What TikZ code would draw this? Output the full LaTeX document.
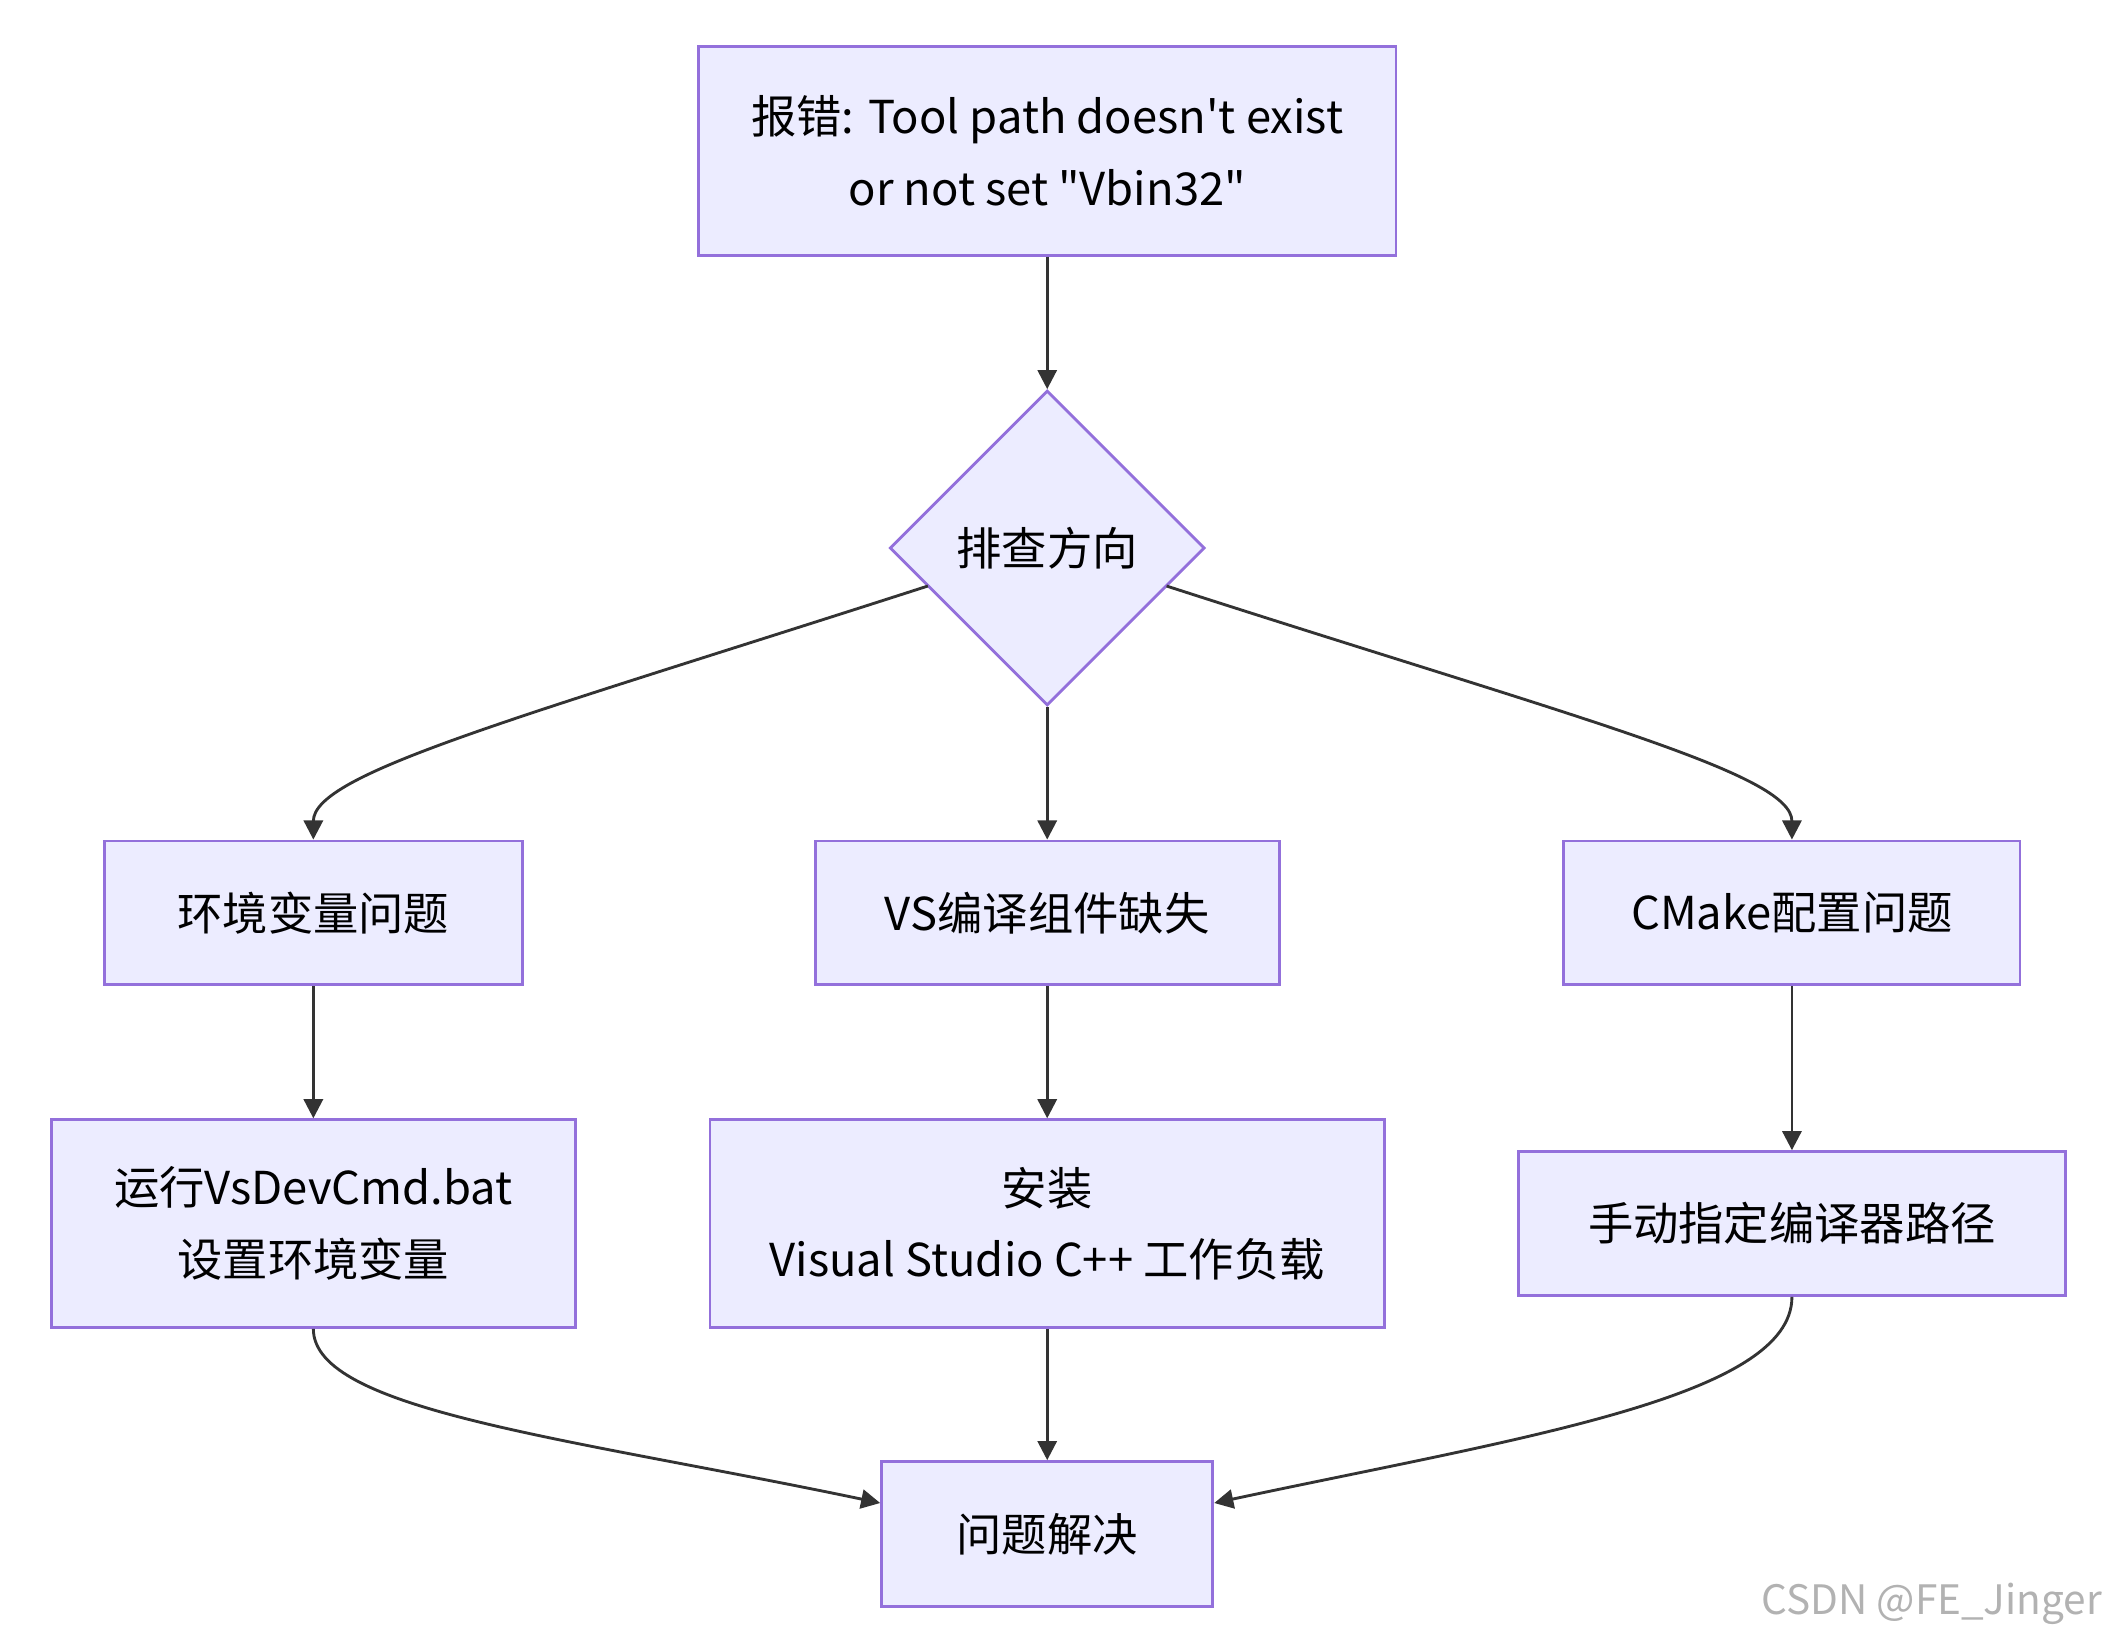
\documentclass[tikz,border=0pt]{standalone}
\usepackage{fontspec}
\setmainfont{Noto Sans CJK SC}
\usetikzlibrary{shapes.geometric,arrows.meta}
\definecolor{boxfill}{HTML}{ECECFF}
\definecolor{boxline}{HTML}{9370DB}
\definecolor{linkcol}{HTML}{333333}
\begin{document}
\begin{tikzpicture}[x=0.01cm,y=-0.01cm,
    box/.style={draw=boxline,fill=boxfill,line width=0.6pt,align=center,
                font=\fontsize{9.5}{15}\selectfont,inner sep=0pt},
    link/.style={draw=linkcol,line width=0.6pt,-{Triangle[length=4pt,width=4pt]}}]
  \useasboundingbox (0,0) rectangle (1568,1208);
  % nodes
  \node[box,minimum width=5.14cm,minimum height=1.54cm] (err) at (772,111)
    {报错: Tool path doesn\textquotesingle t exist\\or not set \textquotedbl Vbin32\textquotedbl};
  \node[box,diamond,minimum width=2.32cm,minimum height=2.32cm] (dir) at (772,404) {排查方向};
  \node[box,minimum width=3.08cm,minimum height=1.06cm] (env) at (231,673) {环境变量问题};
  \node[box,minimum width=3.42cm,minimum height=1.06cm] (vs) at (772,673) {VS编译组件缺失};
  \node[box,minimum width=3.36cm,minimum height=1.06cm] (cm) at (1321,673) {CMake配置问题};
  \node[box,minimum width=3.86cm,minimum height=1.53cm] (run) at (231,902) {运行VsDevCmd.bat\\设置环境变量};
  \node[box,minimum width=4.97cm,minimum height=1.53cm] (inst) at (772,902) {安装\\Visual Studio C++ 工作负载};
  \node[box,minimum width=4.03cm,minimum height=1.06cm] (path) at (1321,902) {手动指定编译器路径};
  \node[box,minimum width=2.44cm,minimum height=1.07cm] (done) at (772,1131) {问题解决};
  \node[text=gray!60,font=\fontsize{8.5}{10}\selectfont,anchor=east] (mark) at (1562,1182) {CSDN @FE\_Jinger};
  % links
  \draw[link] (err) -- (dir);
  \coordinate (dl) at (684,432);
  \coordinate (dr) at (860,432);
  \draw[link] (dl) .. controls (380,530) and (231,570) .. (env.north);
  \draw[link] (dir) -- (vs);
  \draw[link] (dr) .. controls (1164,530) and (1321,570) .. (cm.north);
  \draw[link] (env) -- (run);
  \draw[link] (vs) -- (inst);
  \draw[link] (cm) -- (path);
  \draw[link] (inst) -- (done);
  \draw[link] (run.south) .. controls (231,1040) and (420,1060) .. (done.west |- 0,1108);
  \draw[link] (path.south) .. controls (1321,1030) and (1120,1060) .. (done.east |- 0,1108);
\end{tikzpicture}
\end{document}
